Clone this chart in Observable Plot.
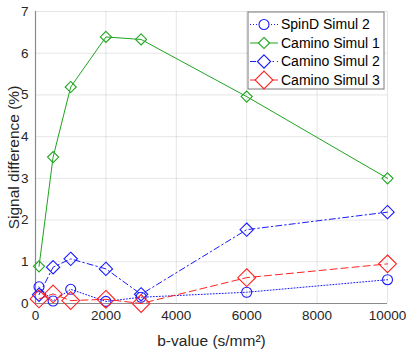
<!DOCTYPE html>
<html><head><meta charset="utf-8">
<script src="https://cdn.jsdelivr.net/npm/d3@7"></script>
<script src="https://cdn.jsdelivr.net/npm/@observablehq/plot@0.6"></script>
<style>body{margin:0;background:#fff}</style>
</head><body><div id="chart"></div>
<script>
const bValues = [100, 500, 1000, 2000, 3000, 6000, 10000];
const spinD2  = [0.40, 0.06, 0.34, 0.05, 0.15, 0.27, 0.57];
const camino1 = [0.89, 3.51, 5.19, 6.39, 6.33, 4.96, 3.00];
const camino2 = [0.21, 0.87, 1.07, 0.83, 0.22, 1.77, 2.19];
const camino3 = [0.11, 0.23, 0.07, 0.10, 0.00, 0.62, 0.95];
const seriesNames = ["SpinD Simul 2", "Camino Simul 1", "Camino Simul 2", "Camino Simul 3"];
const xTicks = [0, 2000, 4000, 6000, 8000, 10000];
const yTicks = [0, 1, 2, 3, 4, 5, 6, 7];

const styles = [
  {values: spinD2,  color: "#1a1aff", dash: "1,2",      symbol: "circle",   r: 5},
  {values: camino1, color: "#1fa51f", dash: null,       symbol: "diamond2", r: 5},
  {values: camino2, color: "#1a1aff", dash: "6,3,1.5,3", symbol: "diamond2", r: 6},
  {values: camino3, color: "#ff2222", dash: "7,4",      symbol: "diamond2", r: 8}
];

const marks = [
  Plot.gridX(xTicks, {stroke: "#000", strokeOpacity: 0.1}),
  Plot.gridY(yTicks, {stroke: "#000", strokeOpacity: 0.1}),
  Plot.ruleX([0], {stroke: "#8a8a8a", strokeWidth: 1.2}),
  Plot.ruleY([0], {stroke: "#8a8a8a", strokeWidth: 1.2}),
  Plot.axisX(xTicks, {tickSize: 0, tickPadding: 7, tickFormat: d => String(d), fill: "#262626",
    label: "b-value (s/mm²)", labelAnchor: "center", labelArrow: "none", labelOffset: 42, fontSize: 13.5}),
  Plot.axisY(yTicks, {tickSize: 0, tickPadding: 7, fill: "#262626",
    label: "Signal difference (%)", labelAnchor: "center", labelArrow: "none", labelOffset: 28, fontSize: 13.5})
];
styles.forEach((s, i) => {
  const data = bValues.map((b, j) => ({b, v: s.values[j]}));
  marks.push(Plot.line(data, {x: "b", y: "v", stroke: s.color, strokeWidth: 1, strokeDasharray: s.dash}));
  marks.push(Plot.dot(data, {x: "b", y: "v", stroke: s.color, strokeWidth: 1.1, symbol: s.symbol, r: s.r, fill: "none"}));
});

const plot = Plot.plot({
  width: 407, height: 352,
  marginLeft: 35, marginRight: 20, marginTop: 11, marginBottom: 49,
  style: {fontFamily: "'Liberation Sans', Arial, sans-serif", fontSize: "13.5px", color: "#262626", background: "#fff"},
  x: {domain: [0, 10000]},
  y: {domain: [0, 7]},
  marks
});
document.getElementById("chart").appendChild(plot);

d3.select(plot).selectAll("[aria-label='x-axis label'] text, [aria-label='y-axis label'] text")
  .style("font-size", "15.5px");

// legend
const svg = d3.select(plot);
const lg = svg.append("g").attr("class", "legend").attr("text-anchor", "start");
const lx = 248, ly = 12, lw = 136, lh = 77;
lg.append("rect").attr("x", lx).attr("y", ly).attr("width", lw).attr("height", lh)
  .attr("fill", "#fff").attr("stroke", "#7a7a7a").attr("stroke-width", 1);
const symGen = {circle: d3.symbolCircle, diamond2: d3.symbolDiamond2};
seriesNames.forEach((name, i) => {
  const s = styles[i];
  const y = ly + 12.5 + i * 18.5;
  lg.append("line").attr("x1", lx + 2).attr("x2", lx + 30).attr("y1", y).attr("y2", y)
    .attr("stroke", s.color).attr("stroke-width", 1).attr("stroke-dasharray", s.dash);
  lg.append("path").attr("transform", `translate(${lx + 16},${y})`)
    .attr("d", d3.symbol(symGen[s.symbol], Math.PI * s.r * s.r)())
    .attr("fill", "#fff").attr("stroke", s.color).attr("stroke-width", 1.1);
  lg.append("text").attr("x", lx + 33).attr("y", y).attr("dy", "0.35em")
    .attr("text-anchor", "start").attr("fill", "#000").style("font-size", "14px").text(name);
});
</script></body></html>
